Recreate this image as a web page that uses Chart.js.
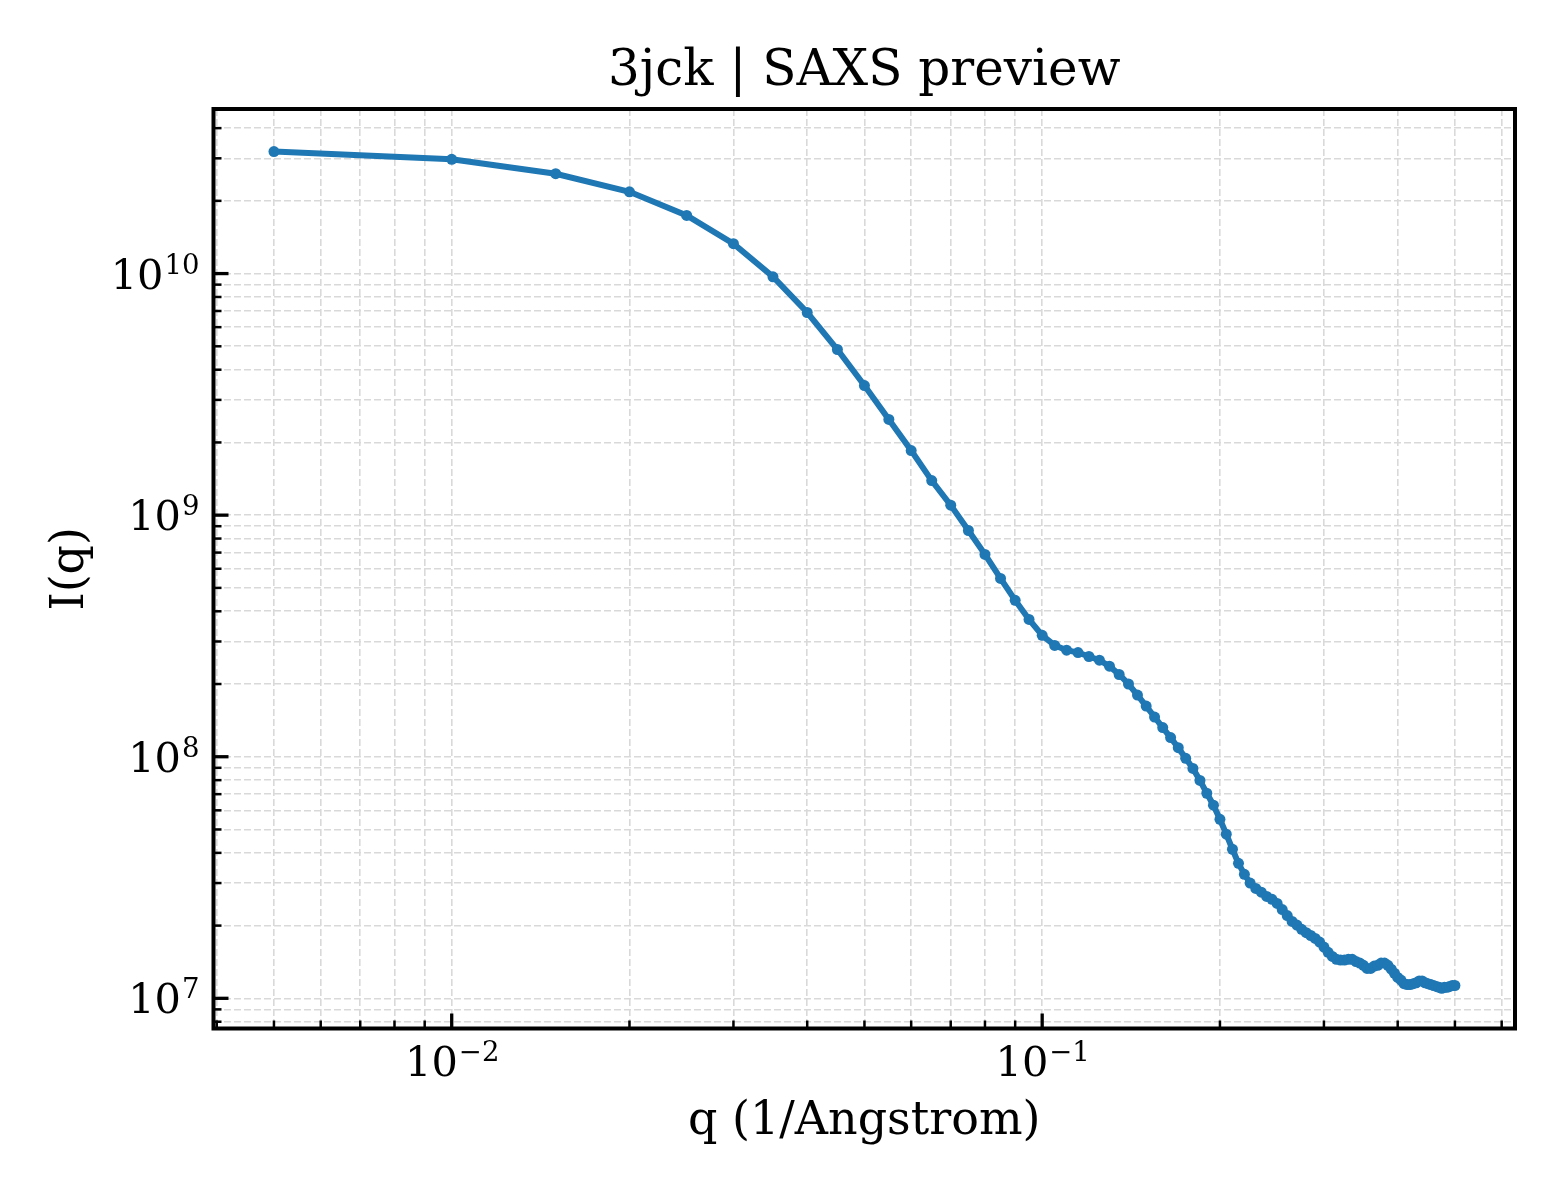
<!DOCTYPE html>
<html>
<head>
<meta charset="utf-8">
<title>3jck | SAXS preview</title>
<script src="https://cdn.jsdelivr.net/npm/chart.js@4.4.1/dist/chart.umd.min.js"></script>
<style>
  html, body { margin: 0; padding: 0; background: #fff; }
  canvas { display: block; }
</style>
</head>
<body>
<canvas id="saxs" width="1560" height="1200"></canvas>
<script>
// q in 1/Angstrom
const qValues = [
  0.005, 0.010, 0.015, 0.020, 0.025, 0.030, 0.035, 0.040, 0.045, 0.050,
  0.055, 0.060, 0.065, 0.070, 0.075, 0.080, 0.085, 0.090, 0.095, 0.100,
  0.105, 0.110, 0.115, 0.120, 0.125, 0.130, 0.135, 0.140, 0.145, 0.150,
  0.155, 0.160, 0.165, 0.170, 0.175, 0.180, 0.185, 0.190, 0.195, 0.200,
  0.205, 0.210, 0.215, 0.220, 0.225, 0.230, 0.235, 0.240, 0.245, 0.250,
  0.255, 0.260, 0.265, 0.270, 0.275, 0.280, 0.285, 0.290, 0.295, 0.300,
  0.305, 0.310, 0.315, 0.320, 0.325, 0.330, 0.335, 0.340, 0.345, 0.350,
  0.355, 0.360, 0.365, 0.370, 0.375, 0.380, 0.385, 0.390, 0.395, 0.400,
  0.405, 0.410, 0.415, 0.420, 0.425, 0.430, 0.435, 0.440, 0.445, 0.450,
  0.455, 0.460, 0.465, 0.470, 0.475, 0.480, 0.485, 0.490, 0.495, 0.500
];

// I(q)
const intensity = [
  3.20e10, 2.97e10, 2.59e10, 2.18e10, 1.74e10, 1.33e10, 9.70e9, 6.90e9, 4.85e9, 3.44e9,
  2.49e9, 1.85e9, 1.39e9, 1.10e9, 8.64e8, 6.88e8, 5.47e8, 4.44e8, 3.70e8, 3.18e8,
  2.89e8, 2.76e8, 2.70e8, 2.60e8, 2.51e8, 2.37e8, 2.19e8, 2.00e8, 1.80e8, 1.62e8,
  1.46e8, 1.32e8, 1.20e8, 1.09e8, 9.85e7, 8.95e7, 7.98e7, 7.06e7, 6.30e7, 5.51e7,
  4.78e7, 4.14e7, 3.62e7, 3.26e7, 3.00e7, 2.85e7, 2.75e7, 2.64e7, 2.57e7, 2.47e7,
  2.33e7, 2.20e7, 2.08e7, 2.01e7, 1.93e7, 1.87e7, 1.82e7, 1.77e7, 1.71e7, 1.63e7,
  1.55e7, 1.49e7, 1.45e7, 1.44e7, 1.44e7, 1.45e7, 1.45e7, 1.42e7, 1.40e7, 1.37e7,
  1.33e7, 1.33e7, 1.36e7, 1.37e7, 1.40e7, 1.40e7, 1.37e7, 1.32e7, 1.27e7, 1.22e7,
  1.19e7, 1.15e7, 1.14e7, 1.14e7, 1.15e7, 1.16e7, 1.18e7, 1.18e7, 1.16e7, 1.15e7,
  1.14e7, 1.13e7, 1.12e7, 1.11e7, 1.10e7, 1.11e7, 1.11e7, 1.12e7, 1.13e7, 1.13e7
];

// tick positions (major + minor) and labelled major ticks
const xTicks = [
  0.004, 0.005, 0.006, 0.007, 0.008, 0.009,
  0.01, 0.02, 0.03, 0.04, 0.05, 0.06, 0.07, 0.08, 0.09,
  0.1, 0.2, 0.3, 0.4, 0.5, 0.6
];
const xMajor = [0.01, 0.1];
const xMajorExp = ['\u22122', '\u22121'];

const yTicks = [
  8e6, 9e6,
  1e7, 2e7, 3e7, 4e7, 5e7, 6e7, 7e7, 8e7, 9e7,
  1e8, 2e8, 3e8, 4e8, 5e8, 6e8, 7e8, 8e8, 9e8,
  1e9, 2e9, 3e9, 4e9, 5e9, 6e9, 7e9, 8e9, 9e9,
  1e10, 2e10, 3e10, 4e10
];
const yMajor = [1e7, 1e8, 1e9, 1e10];
const yMajorExp = ['7', '8', '9', '10'];

const titleText = '3jck | SAXS preview';
const xLabel = 'q (1/Angstrom)';
const yLabel = 'I(q)';

const SERIF = '"DejaVu Serif", "Liberation Serif", serif';

function drawPower(ctx, exp, x, y, align) {
  // "10" with a superscript exponent, mathtext style
  ctx.font = '41.5px ' + SERIF;
  const wb = ctx.measureText('10').width;
  ctx.font = '27.5px ' + SERIF;
  const we = ctx.measureText(exp).width;
  let left = x;
  if (align === 'right') left = x - wb - we;
  if (align === 'center') left = x - (wb + we) / 2;
  ctx.textAlign = 'left';
  ctx.textBaseline = 'alphabetic';
  ctx.font = '41.5px ' + SERIF;
  ctx.fillText('10', left, y);
  ctx.font = '27.5px ' + SERIF;
  ctx.fillText(exp, left + wb + 1, y - 15);
}

const mplAxes = {
  id: 'mplAxes',
  afterDraw(chart) {
    const { ctx, chartArea: a, scales: { x, y } } = chart;
    ctx.save();
    ctx.fillStyle = '#000';
    ctx.strokeStyle = '#000';

    // inward ticks on left and bottom
    xTicks.forEach(v => {
      const px = x.getPixelForValue(v);
      if (px < a.left + 2 || px > a.right - 2) return;
      const major = xMajor.includes(v);
      ctx.lineWidth = major ? 3.3 : 2.5;
      ctx.beginPath();
      ctx.moveTo(px, a.bottom);
      ctx.lineTo(px, a.bottom - (major ? 15 : 8));
      ctx.stroke();
    });
    yTicks.forEach(v => {
      const py = y.getPixelForValue(v);
      if (py < a.top + 2 || py > a.bottom - 2) return;
      const major = yMajor.includes(v);
      ctx.lineWidth = major ? 3.3 : 2.5;
      ctx.beginPath();
      ctx.moveTo(a.left, py);
      ctx.lineTo(a.left + (major ? 15 : 8), py);
      ctx.stroke();
    });

    // spines
    ctx.lineWidth = 4;
    ctx.strokeRect(a.left, a.top, a.right - a.left, a.bottom - a.top);

    // tick labels
    xMajor.forEach((v, i) => {
      drawPower(ctx, xMajorExp[i], x.getPixelForValue(v), a.bottom + 47.5, 'center');
    });
    yMajor.forEach((v, i) => {
      drawPower(ctx, yMajorExp[i], a.left - 15, y.getPixelForValue(v) + 15, 'right');
    });

    // title and axis labels
    const cx = (a.left + a.right) / 2;
    ctx.textAlign = 'center';
    ctx.textBaseline = 'alphabetic';
    ctx.font = '50px ' + SERIF;
    ctx.fillText(titleText, cx, 85);
    ctx.font = '46px ' + SERIF;
    ctx.fillText(xLabel, cx, 1134);
    ctx.save();
    ctx.translate(71, (a.top + a.bottom) / 2);
    ctx.rotate(-Math.PI / 2);
    ctx.textBaseline = 'middle';
    ctx.fillText(yLabel, 0, 0);
    ctx.restore();

    ctx.restore();
  }
};

const gridOpts = {
  color: '#d9d9d9',
  lineWidth: 1.6,
  drawTicks: false
};

new Chart(document.getElementById('saxs'), {
  type: 'line',
  data: {
    datasets: [{
      label: 'I(q)',
      data: qValues.map((q, i) => ({ x: q, y: intensity[i] })),
      borderColor: '#1f77b4',
      backgroundColor: '#1f77b4',
      borderWidth: 6,
      pointRadius: 5.5,
      pointBorderWidth: 0,
      pointBackgroundColor: '#1f77b4',
      tension: 0,
      fill: false
    }]
  },
  options: {
    responsive: false,
    animation: false,
    devicePixelRatio: 1,
    layout: { padding: { left: 0, right: 45, top: 109, bottom: 0 } },
    plugins: {
      legend: { display: false },
      tooltip: { enabled: false },
      title: { display: false }
    },
    scales: {
      x: {
        type: 'logarithmic',
        min: 0.00395,
        max: 0.632,
        grid: gridOpts,
        border: { display: false, dash: [7, 3] },
        ticks: { display: false },
        afterBuildTicks: s => { s.ticks = xTicks.map(v => ({ value: v })); },
        afterFit: s => { s.height = 171.5; }
      },
      y: {
        type: 'logarithmic',
        min: 7.5e6,
        max: 4.8e10,
        grid: gridOpts,
        border: { display: false, dash: [7, 3] },
        ticks: { display: false },
        afterBuildTicks: s => { s.ticks = yTicks.map(v => ({ value: v })); },
        afterFit: s => { s.width = 213.5; }
      }
    }
  },
  plugins: [mplAxes]
});
</script>
</body>
</html>
